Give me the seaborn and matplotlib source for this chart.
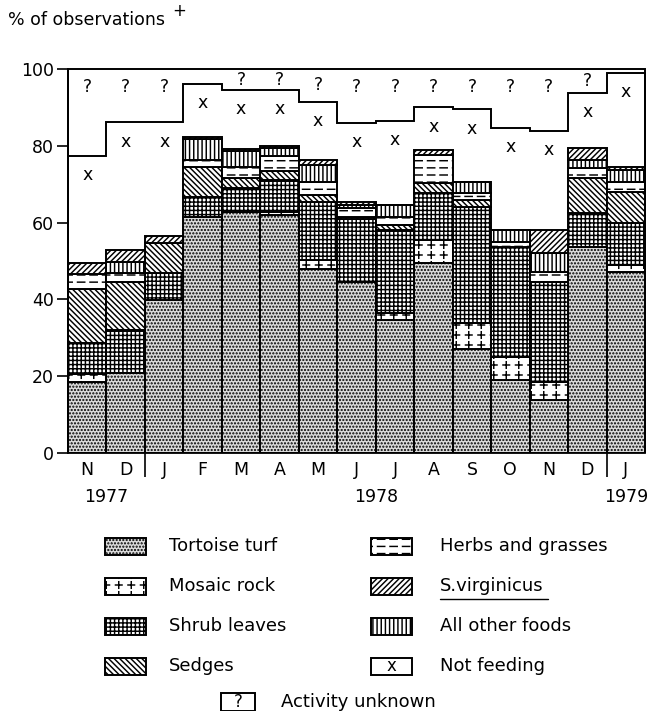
import warnings
import numpy as np
import matplotlib
matplotlib.use("Agg")
import matplotlib.pyplot as plt
import matplotlib.hatch as mhatch
from matplotlib.path import Path
from matplotlib.patches import Rectangle
from matplotlib.lines import Line2D
import seaborn as sns

warnings.filterwarnings("ignore")

# ---------------------------------------------------------------- data
months = ["N", "D", "J", "F", "M", "A", "M", "J", "J", "A", "S", "O", "N", "D", "J"]
year_labels = ["1977", "1978", "1979"]
year_spans = [(0, 1), (2, 13), (14, 14)]          # month index ranges per year

tortoise_turf = [18.6, 20.8, 39.8, 61.5, 62.8, 62.0, 48.0, 44.6, 34.6, 49.5, 27.1, 19.0, 13.8, 53.6, 47.1]
mosaic_rock   = [2.0, 0.0, 0.0, 0.0, 0.0, 0.8, 2.3, 0.0, 1.9, 6.0, 6.8, 6.1, 4.8, 0.0, 1.9]
shrub_leaves  = [8.0, 11.2, 7.0, 5.2, 6.2, 8.3, 15.1, 16.3, 21.6, 12.2, 30.2, 28.5, 25.9, 8.9, 10.9]
sedges        = [14.0, 12.6, 7.8, 7.9, 2.6, 2.4, 1.8, 0.6, 1.3, 2.6, 1.8, 0.0, 0.0, 9.1, 8.1]
herbs_grasses = [4.0, 2.4, 0.0, 1.6, 2.9, 3.9, 3.4, 2.3, 2.1, 7.3, 1.8, 1.3, 2.6, 2.6, 2.6]
all_other     = [0.0, 2.8, 0.0, 5.6, 4.1, 2.0, 4.4, 0.8, 3.1, 0.0, 3.0, 3.2, 5.0, 2.1, 3.1]
s_virginicus  = [3.0, 3.1, 1.9, 0.6, 0.6, 0.6, 1.3, 0.8, 0.0, 1.3, 0.0, 0.0, 6.0, 3.2, 0.9]
not_feeding   = [27.7, 33.2, 29.6, 13.8, 15.3, 14.5, 15.2, 20.5, 21.9, 11.1, 18.8, 26.5, 25.8, 14.3, 24.3]
activity_unknown = [22.7, 13.9, 13.9, 3.8, 5.5, 5.5, 8.5, 14.1, 13.5, 10.0, 10.5, 15.4, 16.1, 6.2, 1.1]


# ------------------------------------------------- extra hatch patterns
class PlusHatch(mhatch.HatchPatternBase):
    """Small isolated plus signs ('p')."""

    def __init__(self, hatch, density):
        n = hatch.count("p")
        self.cols = 8 * n
        self.rows = 10 * n
        self.num_vertices = self.cols * self.rows * 4

    def set_vertices_and_codes(self, vertices, codes):
        arm = 0.033
        k = 0
        for i in range(self.rows):
            for j in range(self.cols):
                cx = (j + 0.5) / self.cols
                cy = (i + 0.5) / self.rows
                vertices[k:k + 4] = [(cx - arm, cy), (cx + arm, cy),
                                     (cx, cy - arm), (cx, cy + arm)]
                codes[k:k + 4] = [Path.MOVETO, Path.LINETO,
                                  Path.MOVETO, Path.LINETO]
                k += 4


class DashHatch(mhatch.HatchPatternBase):
    """Rows of short horizontal dashes ('d')."""

    def __init__(self, hatch, density):
        n = hatch.count("d")
        self.rows = 14 * n
        self.per_row = 8
        self.num_vertices = self.rows * self.per_row * 2

    def set_vertices_and_codes(self, vertices, codes):
        period = 1.0 / self.per_row
        dash = 0.58 * period
        k = 0
        for i in range(self.rows):
            y = (i + 0.5) / self.rows
            for j in range(self.per_row):
                x0 = j * period + 0.2 * period
                vertices[k:k + 2] = [(x0, y), (x0 + dash, y)]
                codes[k:k + 2] = [Path.MOVETO, Path.LINETO]
                k += 2


mhatch._hatch_types.extend([PlusHatch, DashHatch])

# ---------------------------------------------------------------- style
sns.set_style("ticks")
plt.rcParams["font.family"] = ["DejaVu Sans"]
plt.rcParams["hatch.linewidth"] = 1.05
for key in ("text.color", "axes.labelcolor", "xtick.color", "ytick.color",
            "axes.edgecolor"):
    plt.rcParams[key] = "black"

EDGE_LW = 1.4
styles = {
    "Tortoise turf": ("#dcdcdc", "....."),
    "Mosaic rock": ("white", "p"),
    "Shrub leaves": ("white", "++++"),
    "Sedges": ("white", "\\" * 6),
    "Herbs and grasses": ("white", "d"),
    "All other foods": ("white", "||||"),
    "S.virginicus": ("white", "/" * 6),
}
# stacking order, bottom to top
stack = [
    ("Tortoise turf", tortoise_turf),
    ("Mosaic rock", mosaic_rock),
    ("Shrub leaves", shrub_leaves),
    ("Sedges", sedges),
    ("Herbs and grasses", herbs_grasses),
    ("All other foods", all_other),
    ("S.virginicus", s_virginicus),
]
legend_order = ["Tortoise turf", "Mosaic rock", "Shrub leaves", "Sedges",
                "Herbs and grasses", "S.virginicus", "All other foods"]

W, H = 651, 711
fig = plt.figure(figsize=(W / 100, H / 100), dpi=100)
ax = fig.add_axes([68 / W, 1 - 453 / H, 577 / W, 384 / H])

pos = np.arange(len(months))
bottom = np.zeros(len(months))
for name, vals in stack:
    fc, hatch = styles[name]
    vals = np.asarray(vals, dtype=float)
    sns.barplot(x=pos, y=vals, bottom=bottom, width=1.0, saturation=1,
                color=fc, edgecolor="black", linewidth=EDGE_LW, hatch=hatch,
                errorbar=None, ax=ax)
    bottom = bottom + vals

food_total = bottom.copy()
feeding_top = food_total + np.asarray(not_feeding)
unknown_top = feeding_top + np.asarray(activity_unknown)

edges = np.arange(len(months) + 1) - 0.5
ax.stairs(feeding_top, edges, baseline=0, color="black", lw=EDGE_LW,
          clip_on=False, zorder=3)
ax.stairs(unknown_top, edges, baseline=0, color="black", lw=EDGE_LW,
          clip_on=False, zorder=3)

# symbols inside the non-feeding and unknown-activity blocks
for i in range(len(months)):
    ax.text(i, feeding_top[i] - 5.0, "x", ha="center", va="center",
            fontsize=12.5)
    if activity_unknown[i] >= 5:
        ymid = max(95.4, (feeding_top[i] + unknown_top[i]) / 2)
        ax.text(i, ymid, "?", ha="center", va="center", fontsize=12.5)

# ---------------------------------------------------------------- axes
ax.set_xlim(-0.5, len(months) - 0.5)
ax.set_ylim(0, 100)
ax.set_yticks(np.arange(0, 101, 20))
ax.set_xticks(pos)
ax.set_xticklabels(months)
ax.set_xlabel("")
ax.set_ylabel("")
ax.set_xticks([1.5, 13.5], minor=True)
ax.tick_params(axis="x", which="major", length=0, pad=6, labelsize=12.5)
ax.tick_params(axis="x", which="minor", length=17, width=1.2, direction="out")
ax.tick_params(axis="y", length=8, width=1.2, pad=2, labelsize=12.5)
for side in ("top", "right"):
    ax.spines[side].set_visible(False)
ax.spines["left"].set_linewidth(1.3)
ax.spines["bottom"].set_linewidth(1.3)

for label, (a, b) in zip(year_labels, year_spans):
    xc = (a + b) / 2 if a != 0 else (edges[0] + edges[2]) / 2
    ax.text(xc, -11.5, label, ha="center", va="center", fontsize=12.5,
            transform=ax.transData, clip_on=False)

fig.text(8 / W, 1 - 20 / H, "% of observations", ha="left", va="center",
         fontsize=12.5)
fig.text(172 / W, 1 - 11 / H, "+", ha="left", va="center", fontsize=12)


# ---------------------------------------------------------------- legend
def box(x0, yc, w, h, fc, hatch):
    fig.add_artist(Rectangle((x0 / W, 1 - (yc + h / 2) / H), w / W, h / H,
                             transform=fig.transFigure, facecolor=fc,
                             edgecolor="black", linewidth=EDGE_LW, hatch=hatch))


rows_y = [546, 586, 626, 666]
legend_slots = [(105, 169, y) for y in rows_y] + [(371, 440, y) for y in rows_y]
for name, (bx, tx, y) in zip(legend_order, legend_slots):
    fc, hatch = styles[name]
    box(bx, y, 41, 17, fc, hatch)
    fig.text(tx / W, 1 - y / H, name, ha="left", va="center", fontsize=13)
    if name == "S.virginicus":
        fig.add_artist(Line2D([tx / W, (tx + 108) / W],
                              [1 - (y + 13) / H, 1 - (y + 13) / H],
                              transform=fig.transFigure, color="black", lw=1))

bx, tx, y = legend_slots[-1]
box(bx, y, 41, 17, "white", None)
fig.text((bx + 20.5) / W, 1 - y / H, "x", ha="center", va="center", fontsize=12)
fig.text(tx / W, 1 - y / H, "Not feeding", ha="left", va="center", fontsize=13)

box(221, 702, 34, 18, "white", None)
fig.text(238 / W, 1 - 702 / H, "?", ha="center", va="center", fontsize=12)
fig.text(281 / W, 1 - 702 / H, "Activity unknown", ha="left", va="center",
         fontsize=13)

fig.savefig("out.png", dpi=100)
